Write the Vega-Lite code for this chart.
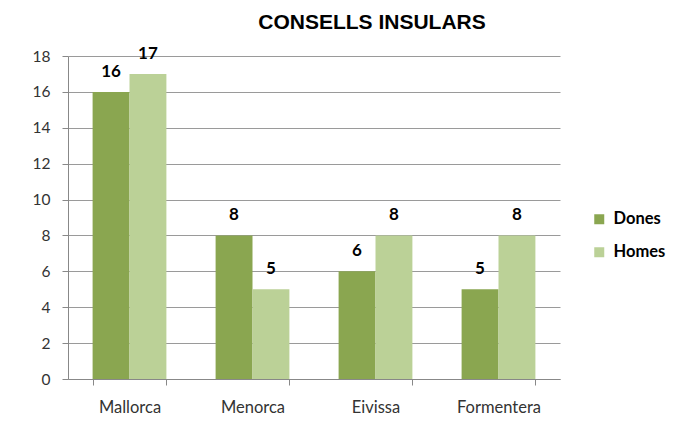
{
  "$schema": "https://vega.github.io/schema/vega-lite/v6.json",
  "autosize": "none",
  "width": 492,
  "height": 323,
  "padding": {"left": 68, "top": 56, "right": 113, "bottom": 53},
  "background": "white",
  "title": {
    "text": "CONSELLS INSULARS",
    "font": "Liberation Sans",
    "fontSize": 21,
    "fontWeight": "bold",
    "color": "#000000",
    "anchor": "middle",
    "frame": "group",
    "dx": 58,
    "offset": 12
  },
  "data": {
    "values": [
      {"illa": "Mallorca", "sexe": "Dones", "valor": 16},
      {"illa": "Mallorca", "sexe": "Homes", "valor": 17},
      {"illa": "Menorca", "sexe": "Dones", "valor": 8},
      {"illa": "Menorca", "sexe": "Homes", "valor": 5},
      {"illa": "Eivissa", "sexe": "Dones", "valor": 6},
      {"illa": "Eivissa", "sexe": "Homes", "valor": 8},
      {"illa": "Formentera", "sexe": "Dones", "valor": 5},
      {"illa": "Formentera", "sexe": "Homes", "valor": 8}
    ]
  },
  "encoding": {
    "x": {
      "field": "illa",
      "type": "nominal",
      "sort": ["Mallorca", "Menorca", "Eivissa", "Formentera"],
      "scale": {"paddingInner": 0.4, "paddingOuter": 0.2},
      "axis": {
        "title": null,
        "labelAngle": 0,
        "labelFont": "Lato",
        "labelFontSize": 16.5,
        "labelColor": "#333333",
        "labelPadding": 14,
        "tickBand": "extent",
        "tickSize": 6,
        "tickColor": "#888888",
        "domainColor": "#888888"
      }
    },
    "xOffset": {"field": "sexe", "type": "nominal"},
    "y": {
      "field": "valor",
      "type": "quantitative",
      "scale": {"domain": [0, 18], "nice": false},
      "axis": {
        "title": null,
        "values": [0, 2, 4, 6, 8, 10, 12, 14, 16, 18],
        "labelFont": "Lato",
        "labelFontSize": 15.5,
        "labelColor": "#333333",
        "labelPadding": 12,
        "tickSize": 6,
        "tickColor": "#888888",
        "domainColor": "#888888",
        "grid": true,
        "gridColor": "#9a9a9a"
      }
    }
  },
  "layer": [
    {
      "mark": {"type": "bar"},
      "encoding": {
        "color": {
          "field": "sexe",
          "type": "nominal",
          "scale": {"domain": ["Dones", "Homes"], "range": ["#8AA650", "#BBD197"]},
          "legend": {
            "title": null,
            "orient": "none",
            "legendX": 523,
            "legendY": 155,
            "symbolType": "square",
            "symbolSize": 100,
            "symbolStrokeWidth": 0,
            "labelFont": "Lato",
            "labelFontSize": 16.5,
            "labelFontWeight": "bold",
            "labelColor": "#000000",
            "labelOffset": 6,
            "rowPadding": 16
          }
        }
      }
    },
    {
      "mark": {"type": "text", "dy": -15, "baseline": "alphabetic", "font": "Lato", "fontSize": 17, "fontWeight": "bold", "color": "#000000"},
      "encoding": {"text": {"field": "valor", "type": "quantitative"}}
    }
  ],
  "config": {"view": {"stroke": null}, "axis": {"domainWidth": 1}}
}
